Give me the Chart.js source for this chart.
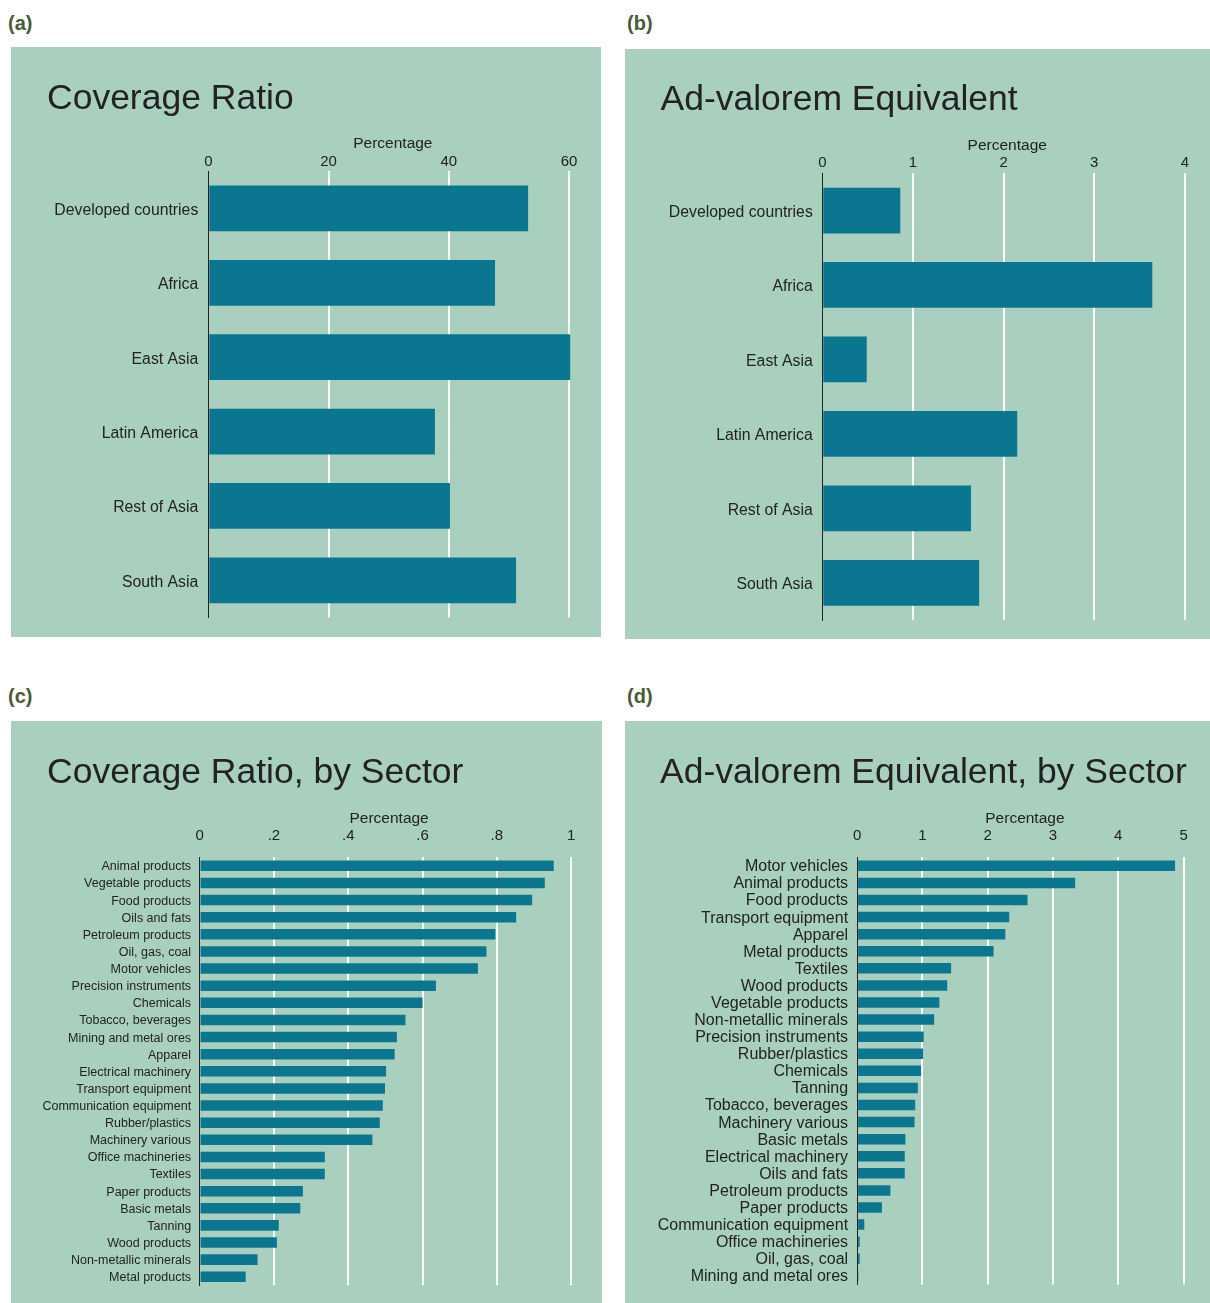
<!DOCTYPE html>
<html><head><meta charset="utf-8">
<script src="https://cdn.jsdelivr.net/npm/chart.js@4/dist/chart.umd.min.js"></script>
<style>
html,body{margin:0;padding:0;background:#fff}
body{width:1210px;height:1303px;position:relative;overflow:hidden;font-family:'Liberation Sans',Arial,sans-serif}
.panel{position:absolute;background:#a9d0bf}
.tag{position:absolute;font-weight:bold;font-size:20px;line-height:1;color:#4a5a33;font-family:'Liberation Sans',Arial,sans-serif}
canvas{display:block}
</style></head><body>
<div class="tag" style="left:8px;top:13px">(a)</div>
<div class="tag" style="left:627px;top:13px">(b)</div>
<div class="tag" style="left:8px;top:686px">(c)</div>
<div class="tag" style="left:627px;top:686px">(d)</div>
<div class="panel" style="left:11px;top:47px;width:590px;height:590px"><canvas id="cA" width="590" height="590"></canvas></div>
<div class="panel" style="left:625px;top:49px;width:585px;height:590px"><canvas id="cB" width="585" height="590"></canvas></div>
<div class="panel" style="left:11px;top:721px;width:591px;height:582px"><canvas id="cC" width="591" height="582"></canvas></div>
<div class="panel" style="left:625px;top:721px;width:585px;height:582px"><canvas id="cD" width="585" height="582"></canvas></div>
<script>
// ---- data ----
const regions = ['Developed countries','Africa','East Asia','Latin America','Rest of Asia','South Asia'];
const coverageRegion = [53.2, 47.7, 60.2, 37.7, 40.2, 51.2];
const aveRegion = [0.86, 3.64, 0.49, 2.15, 1.64, 1.73];

const sectorsCoverage = ['Animal products','Vegetable products','Food products','Oils and fats','Petroleum products','Oil, gas, coal','Motor vehicles','Precision instruments','Chemicals','Tobacco, beverages','Mining and metal ores','Apparel','Electrical machinery','Transport equipment','Communication equipment','Rubber/plastics','Machinery various','Office machineries','Textiles','Paper products','Basic metals','Tanning','Wood products','Non-metallic minerals','Metal products'];
const coverageSector = [0.953, 0.929, 0.895, 0.852, 0.796, 0.772, 0.749, 0.636, 0.600, 0.554, 0.531, 0.525, 0.502, 0.499, 0.493, 0.485, 0.465, 0.337, 0.337, 0.278, 0.271, 0.213, 0.208, 0.156, 0.124];

const sectorsAve = ['Motor vehicles','Animal products','Food products','Transport equipment','Apparel','Metal products','Textiles','Wood products','Vegetable products','Non-metallic minerals','Precision instruments','Rubber/plastics','Chemicals','Tanning','Tobacco, beverages','Machinery various','Basic metals','Electrical machinery','Oils and fats','Petroleum products','Paper products','Communication equipment','Office machineries','Oil, gas, coal','Mining and metal ores'];
const aveSector = [4.87, 3.34, 2.61, 2.33, 2.27, 2.09, 1.44, 1.38, 1.26, 1.18, 1.02, 1.01, 0.98, 0.93, 0.89, 0.88, 0.74, 0.73, 0.73, 0.51, 0.38, 0.11, 0.04, 0.04, 0.02];

const ticksA = [0, 20, 40, 60];
const tickLabelsA = ['0', '20', '40', '60'];
const ticksB = [0, 1, 2, 3, 4];
const tickLabelsB = ['0', '1', '2', '3', '4'];
const ticksC = [0, 0.2, 0.4, 0.6, 0.8, 1];
const tickLabelsC = ['0', '.2', '.4', '.6', '.8', '1'];
const ticksD = [0, 1, 2, 3, 4, 5];
const tickLabelsD = ['0', '1', '2', '3', '4', '5'];

const titles = ['Coverage Ratio', 'Ad-valorem Equivalent', 'Coverage Ratio, by Sector', 'Ad-valorem Equivalent, by Sector'];
const axisTitle = 'Percentage';

// ---- styles ----
const FONT = "'Liberation Sans', Arial, Helvetica, sans-serif";
const BAR = '#0a7690';
const TEXT = '#222222';

// let long category labels extend into the left padding instead of being clipped
const unclipLabels = { id: 'unclipLabels', afterLayout(chart) { chart.scales.y.left = 0; } };

function build(id, labels, values, tickVals, tickLabels, title, L) {
  new Chart(document.getElementById(id), {
    type: 'bar',
    data: { labels: labels, datasets: [{ data: values, backgroundColor: BAR, borderWidth: 0, barPercentage: 0.615, categoryPercentage: 1 }] },
    plugins: [unclipLabels],
    options: {
      indexAxis: 'y', responsive: false, animation: false, devicePixelRatio: 1,
      layout: { padding: { left: L.padL, right: L.padR, top: 0, bottom: L.padB } },
      plugins: {
        legend: { display: false }, tooltip: { enabled: false },
        title: { display: true, text: title, align: 'start', color: TEXT,
          font: { family: FONT, size: 35.5, weight: 'normal', lineHeight: 1.2 },
          padding: { top: L.titleTop, bottom: 0 } }
      },
      scales: {
        x: {
          position: 'top', min: 0, max: L.xmax,
          afterBuildTicks: s => { s.ticks = tickVals.map(v => ({ value: v })); },
          afterFit: s => { s.height = L.xH; },
          ticks: { padding: L.tickPad, color: TEXT, font: { family: FONT, size: 15 }, maxRotation: 0, autoSkip: false,
                   callback: (v, i) => tickLabels[i] },
          grid: { color: c => (c.tick && c.tick.value === 0) ? 'rgba(0,0,0,0)' : '#ffffff', lineWidth: 2, drawTicks: false },
          border: { display: false },
          title: { display: true, text: axisTitle, color: TEXT, font: { family: FONT, size: 15.5 }, padding: { top: L.axTitlePad, bottom: 0 } }
        },
        y: {
          z: 1,
          afterFit: s => { s.width = L.yW; },
          ticks: { padding: L.labPad, labelOffset: L.labOff, color: TEXT, font: { family: FONT, size: L.labSize }, autoSkip: false },
          grid: { display: false, drawTicks: false },
          border: { display: true, color: '#222222', width: 1 }
        }
      }
    }
  });
}

build('cA', regions, coverageRegion, ticksA, tickLabelsA, titles[0],
  { padL: 36, padR: 23.6, padB: 14.9, titleTop: 30.5, xH: 51.2, axTitlePad: 14.8, tickPad: 0, yW: 161.3, xmax: 61.4, labPad: 10, labSize: 15.8, labOff: 2 });
build('cB', regions, aveRegion, ticksB, tickLabelsB, titles[1],
  { padL: 35.5, padR: 17.8, padB: 15.1, titleTop: 30, xH: 51.7, axTitlePad: 15.3, tickPad: 1.7, yW: 161.8, xmax: 4.08, labPad: 9.5, labSize: 15.8, labOff: 2 });
build('cC', sectorsCoverage, coverageSector, ticksC, tickLabelsC, titles[2],
  { padL: 36, padR: 23.4, padB: 17.7, titleTop: 30.5, xH: 63.2, axTitlePad: 15, tickPad: 12.7, yW: 152.6, xmax: 1.02, labPad: 8.5, labSize: 12.5, labOff: 1 });
build('cD', sectorsAve, aveSector, ticksD, tickLabelsD, titles[3],
  { padL: 35, padR: 17.3, padB: 17.7, titleTop: 30.5, xH: 63.2, axTitlePad: 15, tickPad: 12.7, yW: 197.1, xmax: 5.14, labPad: 9, labSize: 16, labOff: 1 });
</script>
</body></html>
